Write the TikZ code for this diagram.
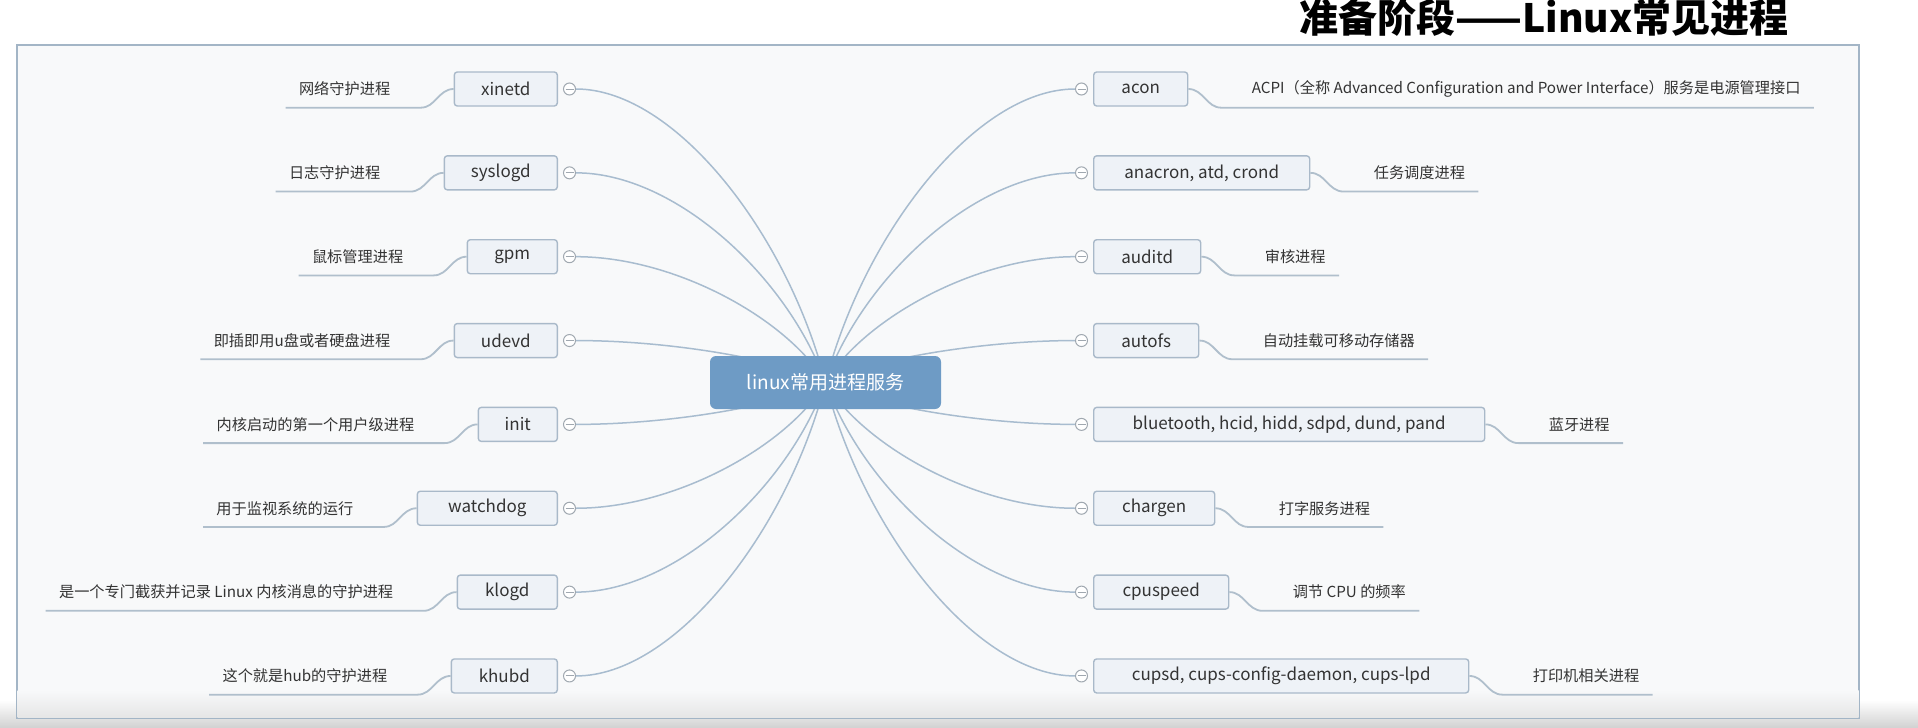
\documentclass[tikz,border=0pt]{standalone}
\usepackage{fontspec}
\setmainfont{Noto Sans CJK SC}
\usetikzlibrary{positioning,calc,backgrounds}
\definecolor{framec}{HTML}{A3B5C6}
\definecolor{paperc}{HTML}{F8F9FA}
\definecolor{boxfill}{HTML}{EEF2F7}
\definecolor{boxline}{HTML}{A9B9C9}
\definecolor{textc}{HTML}{333333}
\definecolor{hubc}{HTML}{6E9BC5}
\definecolor{linec}{HTML}{A8BCCF}
\definecolor{underc}{HTML}{B0BFCC}
\definecolor{foldc}{HTML}{A0A8B0}

\begin{document}
\begin{tikzpicture}
    [
        x=0.5pt, y=-0.5pt,
        proc/.style={draw=boxline, fill=boxfill, line width=0.7pt, rounded corners=1.5pt,
            minimum height=17pt, inner sep=0pt, text=textc, font=\fontsize{8.5}{10}\selectfont},
        note/.style={inner sep=0pt, text=textc, font=\fontsize{7.6}{9}\selectfont},
        fold/.style={circle, draw=foldc, fill=white, line width=0.5pt, minimum size=6pt, inner sep=0pt,
            path picture={\draw[foldc, line width=0.5pt] ([xshift=1pt]path picture bounding box.west) -- ([xshift=-1pt]path picture bounding box.east);}},
        branch/.style={draw=linec, line width=0.75pt},
        under/.style={draw=underc, line width=0.9pt}
    ]
    \useasboundingbox (0,0) rectangle (1918,728);
    \begin{scope}[on background layer]
        \fill[white] (0,0) rectangle (1918,728);
        \shade[top color=white, bottom color=black!18] (0,700) rectangle (1918,728);
        \draw[framec, fill=paperc, line width=1pt] (17,45) rectangle (1859,718);
        \shade[top color=paperc, bottom color=black!10] (17.5,690) rectangle (1858.5,717.5);
    \end{scope}

    \node[font=\fontsize{19.5}{22}\selectfont\bfseries, text=black] (title) at (1544,17) {准备阶段——Linux常见进程};

    \node[fill=hubc, rounded corners=3pt, minimum width=115.5pt, minimum height=26.5pt, inner sep=0pt,
        text=white, font=\fontsize{9.5}{11}\selectfont] (hub) at (825.5,382.5) {linux常用进程服务};

    % left branches
    \foreach \name/\w/\txt/\desc [count=\i from 0] in {
        xinetd/103/xinetd/网络守护进程,
        syslogd/113/syslogd/日志守护进程,
        gpm/90/gpm/鼠标管理进程,
        udevd/103/udevd/即插即用u盘或者硬盘进程,
        init/79/init/内核启动的第一个用户级进程,
        watchdog/140/watchdog/用于监视系统的运行,
        klogd/100/klogd/是一个专门截获并记录 Linux 内核消息的守护进程,
        khubd/106/khubd/这个就是hub的守护进程}
    {
        \node[proc, minimum width={\w*0.5pt}, anchor=east] (\name) at (558,89+83.85*\i) {\txt};
        \node[fold, right=2.5pt of \name] (\name-o) {};
        \node[note, left=31.5pt of \name] (\name-n) {\desc};
        \draw[under] (\name.west) .. controls +(-15,0) and +(15,0) .. ($(\name-n.east |- \name.south)+(30,1)$)
            -- ($(\name-n.west |- \name.south)+(-13,1)$);
        \begin{scope}[on background layer]
            \coordinate (\name-m) at ($(hub.center)!0.5!(hub.center |- \name-o.east)$);
            \draw[branch] (\name-o.east) .. controls ($(\name-o.east)!0.4!(\name-o.east -| hub.center)$)
                and ($(\name-m)!0.15!(\name-m -| \name-o.east)$) .. (hub.center);
        \end{scope}
    }

    % right branches
    \foreach \name/\w/\txt/\desc [count=\i from 0] in {
        acon/94/acon/ACPI（全称 Advanced Configuration and Power Interface）服务是电源管理接口,
        anacron/216/{anacron, atd, crond}/任务调度进程,
        auditd/107/auditd/审核进程,
        autofs/105/autofs/自动挂载可移动存储器,
        bluetooth/391/{bluetooth, hcid, hidd, sdpd, dund, pand}/蓝牙进程,
        chargen/121/chargen/打字服务进程,
        cpuspeed/135/cpuspeed/调节 CPU 的频率,
        cupsd/375/{cupsd, cups-config-daemon, cups-lpd}/打印机相关进程}
    {
        \node[proc, minimum width={\w*0.5pt}, anchor=west] (\name) at (1093,89+83.85*\i) {\txt};
        \node[fold, left=2.5pt of \name] (\name-o) {};
        \node[note, right=31.5pt of \name] (\name-n) {\desc};
        \draw[under] (\name.east) .. controls +(15,0) and +(-15,0) .. ($(\name-n.west |- \name.south)+(-30,1)$)
            -- ($(\name-n.east |- \name.south)+(13,1)$);
        \begin{scope}[on background layer]
            \coordinate (\name-m) at ($(hub.center)!0.5!(hub.center |- \name-o.west)$);
            \draw[branch] (\name-o.west) .. controls ($(\name-o.west)!0.4!(\name-o.west -| hub.center)$)
                and ($(\name-m)!0.15!(\name-m -| \name-o.west)$) .. (hub.center);
        \end{scope}
    }

\end{tikzpicture}
\end{document}
